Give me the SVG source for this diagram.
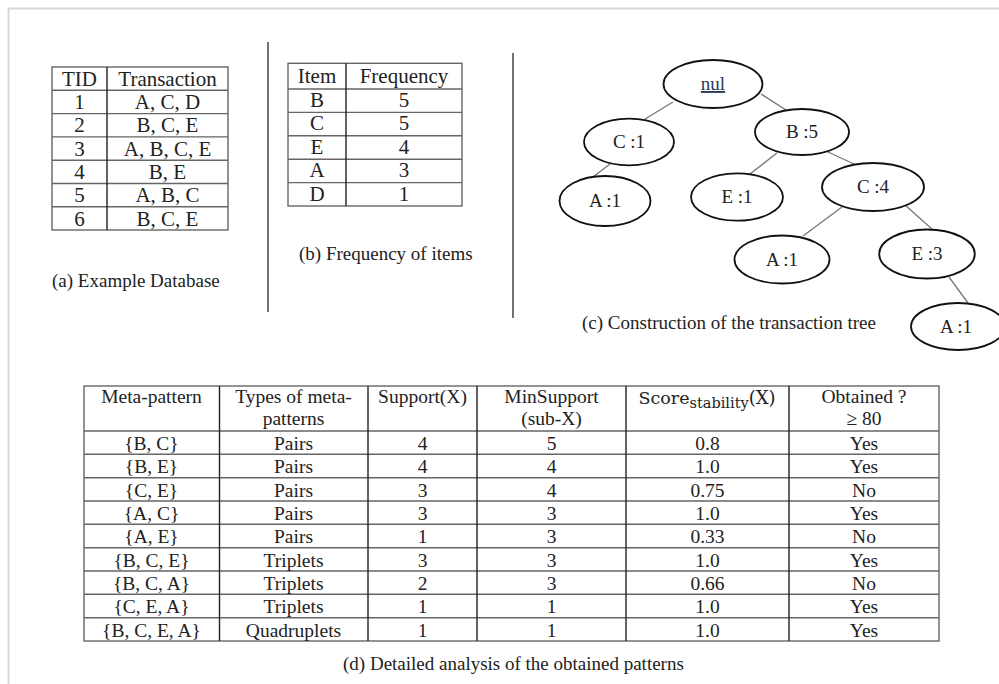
<svg xmlns="http://www.w3.org/2000/svg" width="999" height="684" viewBox="0 0 999 684">
<style>
text{font-family:"Liberation Serif","Times New Roman",serif;fill:#222;}
.t{font-size:21px;text-anchor:middle;}
.d{font-size:19.5px;text-anchor:middle;}
.cap{font-size:19px;}
.hl{stroke:#666;stroke-width:1.4;fill:none;}
.vl{stroke:#222;stroke-width:1.4;fill:none;}
.sep{stroke:#444;stroke-width:1.5;}
.node ellipse{fill:#fff;stroke:#111;stroke-width:1.8;}
.node text{font-size:19px;text-anchor:middle;}
.edge{stroke:#777;stroke-width:1.3;}
</style>
<rect x="0" y="0" width="999" height="684" fill="#fff"/>
<path d="M8.5 684V8.5H999" fill="none" stroke="#d8d8d8" stroke-width="2"/>
<line class="sep" x1="268" y1="42" x2="268" y2="312"/>
<line class="sep" x1="513" y1="53" x2="513" y2="318"/>

<g id="table-a">
<rect class="hl" x="52" y="67" width="176" height="163"/>
<path class="hl" d="M52 90.3H228M52 113.6H228M52 136.9H228M52 160.2H228M52 183.5H228M52 206.8H228"/>
<line class="vl" x1="107" y1="67" x2="107" y2="230"/>
<text class="t" x="79.5" y="86">TID</text><text class="t" x="167.5" y="86">Transaction</text>
<text class="t" x="79.5" y="109">1</text><text class="t" x="167.5" y="109">A, C, D</text>
<text class="t" x="79.5" y="132.3">2</text><text class="t" x="167.5" y="132.3">B, C, E</text>
<text class="t" x="79.5" y="155.6">3</text><text class="t" x="167.5" y="155.6">A, B, C, E</text>
<text class="t" x="79.5" y="178.9">4</text><text class="t" x="167.5" y="178.9">B, E</text>
<text class="t" x="79.5" y="202.2">5</text><text class="t" x="167.5" y="202.2">A, B, C</text>
<text class="t" x="79.5" y="225.5">6</text><text class="t" x="167.5" y="225.5">B, C, E</text>
<text class="cap" x="52" y="287">(a) Example Database</text>
</g>

<g id="table-b">
<rect class="hl" x="288" y="63.3" width="174" height="142.7"/>
<path class="hl" d="M288 89H462M288 112.4H462M288 135.8H462M288 159.2H462M288 182.6H462"/>
<line class="vl" x1="346" y1="63.3" x2="346" y2="206"/>
<text class="t" x="317" y="83">Item</text><text class="t" x="404" y="83">Frequency</text>
<text class="t" x="317" y="107">B</text><text class="t" x="404" y="107">5</text>
<text class="t" x="317" y="130.4">C</text><text class="t" x="404" y="130.4">5</text>
<text class="t" x="317" y="153.8">E</text><text class="t" x="404" y="153.8">4</text>
<text class="t" x="317" y="177.2">A</text><text class="t" x="404" y="177.2">3</text>
<text class="t" x="317" y="200.6">D</text><text class="t" x="404" y="200.6">1</text>
<text class="cap" x="299" y="260">(b) Frequency of items</text>
</g>

<g id="connectors">
<line class="edge" x1="673" y1="102" x2="645" y2="119"/>
<line class="edge" x1="761" y1="94" x2="786" y2="110"/>
<line class="edge" x1="610" y1="164" x2="593" y2="177"/>
<line class="edge" x1="777" y1="153" x2="750" y2="174"/>
<line class="edge" x1="828" y1="152" x2="854" y2="164"/>
<line class="edge" x1="842" y1="207" x2="803" y2="236"/>
<line class="edge" x1="905" y1="205" x2="933" y2="230"/>
<line class="edge" x1="949" y1="277" x2="968" y2="303"/>
</g>

<g id="n-nul" class="node"><ellipse cx="713" cy="84" rx="49.5" ry="24"/><text x="713" y="90" style="fill:#2b3a5a;text-decoration:underline">nul</text></g>
<g id="n-c1" class="node"><ellipse cx="629" cy="142" rx="45" ry="23.3"/><text x="629" y="148">C :1</text></g>
<g id="n-b5" class="node"><ellipse cx="802" cy="132" rx="47" ry="23"/><text x="802" y="138">B :5</text></g>
<g id="n-a1-left" class="node"><ellipse cx="605" cy="201" rx="45.5" ry="25"/><text x="605" y="207">A :1</text></g>
<g id="n-e1" class="node"><ellipse cx="737" cy="197" rx="46" ry="23.7"/><text x="737" y="203">E :1</text></g>
<g id="n-c4" class="node"><ellipse cx="873" cy="187" rx="51" ry="24"/><text x="873" y="193">C :4</text></g>
<g id="n-a1-mid" class="node"><ellipse cx="782" cy="259.5" rx="47.5" ry="24"/><text x="782" y="265.5">A :1</text></g>
<g id="n-e3" class="node"><ellipse cx="927" cy="254" rx="47.8" ry="24.5"/><text x="927" y="260">E :3</text></g>
<g id="n-a1-bottom" class="node"><ellipse cx="958" cy="326.5" rx="47" ry="23.5"/><text x="956" y="332.5">A :1</text></g>
<text class="cap" x="582" y="329">(c) Construction of the transaction tree</text>

<g id="table-d">
<rect class="hl" x="84" y="386" width="855" height="255"/>
<path class="hl" d="M84 431H939M84 454.3H939M84 477.7H939M84 501H939M84 524.3H939M84 547.7H939M84 571H939M84 594.3H939M84 617.7H939"/>
<path class="vl" d="M219.5 386V641M368 386V641M477 386V641M626 386V641M789 386V641"/>
<text class="d" x="151.5" y="403">Meta-pattern</text>
<text class="d" x="293.5" y="403">Types of meta-</text><text class="d" x="293.5" y="425">patterns</text>
<text class="d" x="422.5" y="403">Support(X)</text>
<text class="d" x="551.5" y="403">MinSupport</text><text class="d" x="551.5" y="425">(sub-X)</text>
<text x="707" y="404" text-anchor="middle" style="font-family:'DejaVu Serif',serif;font-size:17.5px">Score<tspan dy="4" style="font-size:14.5px">stability</tspan><tspan dy="-4" style="font-size:18px">(X)</tspan></text>
<text class="d" x="864" y="403">Obtained ?</text><text class="d" x="864" y="425">≥ 80</text>

<text class="d" x="151.5" y="450">{B, C}</text><text class="d" x="293.5" y="450">Pairs</text><text class="d" x="422.5" y="450">4</text><text class="d" x="551.5" y="450">5</text><text class="d" x="707.5" y="450">0.8</text><text class="d" x="864" y="450">Yes</text>
<text class="d" x="151.5" y="473.3">{B, E}</text><text class="d" x="293.5" y="473.3">Pairs</text><text class="d" x="422.5" y="473.3">4</text><text class="d" x="551.5" y="473.3">4</text><text class="d" x="707.5" y="473.3">1.0</text><text class="d" x="864" y="473.3">Yes</text>
<text class="d" x="151.5" y="496.7">{C, E}</text><text class="d" x="293.5" y="496.7">Pairs</text><text class="d" x="422.5" y="496.7">3</text><text class="d" x="551.5" y="496.7">4</text><text class="d" x="707.5" y="496.7">0.75</text><text class="d" x="864" y="496.7">No</text>
<text class="d" x="151.5" y="520">{A, C}</text><text class="d" x="293.5" y="520">Pairs</text><text class="d" x="422.5" y="520">3</text><text class="d" x="551.5" y="520">3</text><text class="d" x="707.5" y="520">1.0</text><text class="d" x="864" y="520">Yes</text>
<text class="d" x="151.5" y="543.3">{A, E}</text><text class="d" x="293.5" y="543.3">Pairs</text><text class="d" x="422.5" y="543.3">1</text><text class="d" x="551.5" y="543.3">3</text><text class="d" x="707.5" y="543.3">0.33</text><text class="d" x="864" y="543.3">No</text>
<text class="d" x="151.5" y="566.7">{B, C, E}</text><text class="d" x="293.5" y="566.7">Triplets</text><text class="d" x="422.5" y="566.7">3</text><text class="d" x="551.5" y="566.7">3</text><text class="d" x="707.5" y="566.7">1.0</text><text class="d" x="864" y="566.7">Yes</text>
<text class="d" x="151.5" y="590">{B, C, A}</text><text class="d" x="293.5" y="590">Triplets</text><text class="d" x="422.5" y="590">2</text><text class="d" x="551.5" y="590">3</text><text class="d" x="707.5" y="590">0.66</text><text class="d" x="864" y="590">No</text>
<text class="d" x="151.5" y="613.3">{C, E, A}</text><text class="d" x="293.5" y="613.3">Triplets</text><text class="d" x="422.5" y="613.3">1</text><text class="d" x="551.5" y="613.3">1</text><text class="d" x="707.5" y="613.3">1.0</text><text class="d" x="864" y="613.3">Yes</text>
<text class="d" x="151.5" y="636.7">{B, C, E, A}</text><text class="d" x="293.5" y="636.7">Quadruplets</text><text class="d" x="422.5" y="636.7">1</text><text class="d" x="551.5" y="636.7">1</text><text class="d" x="707.5" y="636.7">1.0</text><text class="d" x="864" y="636.7">Yes</text>
<text class="cap" x="343" y="670">(d) Detailed analysis of the obtained patterns</text>
</g>
</svg>
